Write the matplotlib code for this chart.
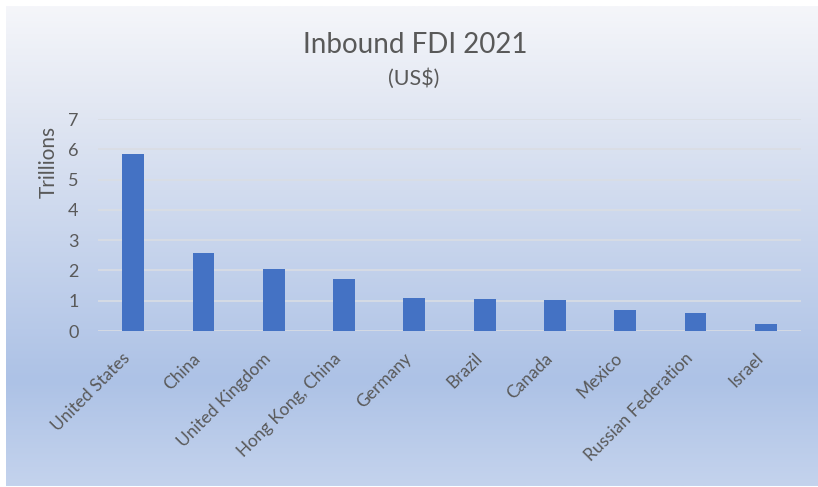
import numpy as np
import matplotlib.pyplot as plt
from matplotlib.colors import LinearSegmentedColormap
from matplotlib.transforms import ScaledTranslation

plt.rcParams['font.family'] = ['Lato', 'DejaVu Sans']

countries = ['United States', 'China', 'United Kingdom', 'Hong Kong, China',
             'Germany', 'Brazil', 'Canada', 'Mexico', 'Russian Federation', 'Israel']
fdi_trillions = [5.83, 2.56, 2.05, 1.73, 1.08, 1.05, 1.02, 0.69, 0.58, 0.23]

text_color = '#595959'
bar_color = '#4472C4'

fig = plt.figure(figsize=(8.18, 4.87), dpi=100)
fig.patch.set_facecolor('white')

# gradient background for the chart area
bg = fig.add_axes([6 / 818, 1 / 487, 1 - 6 / 818, 1 - 7 / 487], zorder=0)
grad_cmap = LinearSegmentedColormap.from_list(
    'bg', [(0.0, '#f5f6fa'), (0.2, '#e3e8f3'), (0.78, '#adc2e6'), (1.0, '#c4d3ed')])
grad = np.linspace(0, 1, 256).reshape(-1, 1)
bg.imshow(grad, aspect='auto', cmap=grad_cmap, extent=[0, 1, 0, 1], origin='upper')
bg.set_axis_off()

ax = fig.add_axes([98 / 818, 1 - 331 / 487, 703 / 818, 212 / 487], zorder=1)
ax.patch.set_alpha(0)

x = np.arange(len(countries))
ax.bar(x, fdi_trillions, width=0.31, color=bar_color, zorder=3)

ax.set_xlim(-0.5, len(countries) - 0.5)
ax.set_ylim(0, 7)
ax.set_yticks(range(0, 8))
ax.yaxis.grid(True, color='#dadde3', linewidth=1.2)
ax.set_axisbelow(True)
for s in ax.spines.values():
    s.set_visible(False)

ax.set_xticks(x)
ax.set_xticklabels(countries, rotation=45, ha='right', rotation_mode='anchor',
                   fontsize=12.5, color=text_color)
ax.tick_params(axis='x', length=0, pad=6)
ax.tick_params(axis='y', length=0, pad=14, labelsize=13, labelcolor=text_color)

# push the slanted labels back along their baseline
shift = ScaledTranslation(-0.11, -0.11, fig.dpi_scale_trans)
for lbl in ax.get_xticklabels():
    lbl.set_transform(lbl.get_transform() + shift)

fig.text(49 / 818, 1 - 162 / 487, 'Trillions', rotation=90, ha='center', va='center',
         fontsize=15, color=text_color)

fig.text(415 / 818, 1 - 45 / 487, 'Inbound FDI 2021', ha='center', va='center',
         fontsize=20, color=text_color)
fig.text(414 / 818, 1 - 79 / 487, '(US$)', ha='center', va='center',
         fontsize=15.5, color=text_color)

fig.savefig('out.png', dpi=100)
